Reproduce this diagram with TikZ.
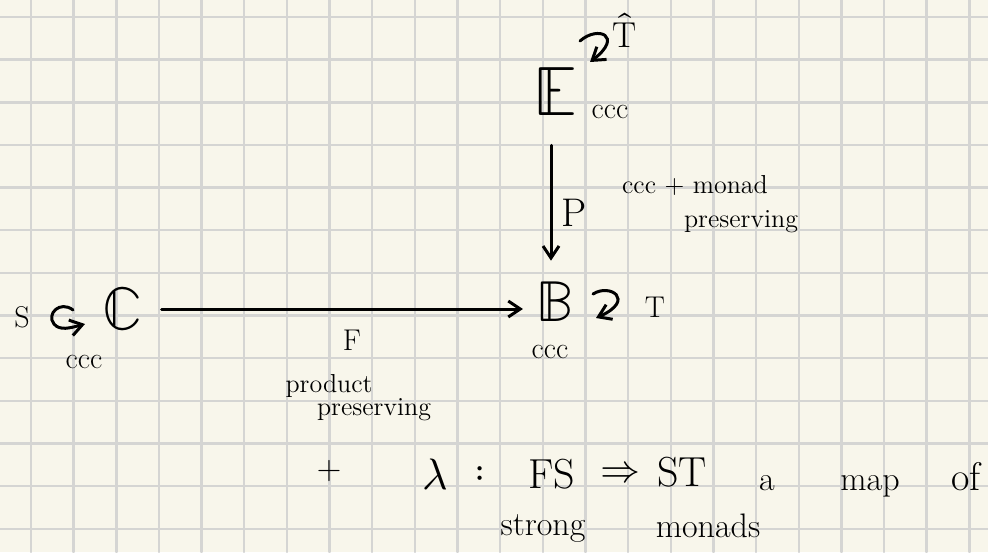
\documentclass[tikz,border=0pt]{standalone}
\usepackage{unicode-math}
\setmathfont{Latin Modern Math}
\usetikzlibrary{arrows.meta}
\definecolor{paper}{HTML}{F8F6EB}
\definecolor{gridgray}{HTML}{D5D5D3}
\newcommand{\handfs}[1]{\fontsize{#1}{#1}\selectfont}
\begin{document}
\begin{tikzpicture}[x=0.5pt,y=-0.5pt,line width=1.5pt,line cap=round,
    >={Straight Barb[length=6pt,width=8pt]},
    every node/.style={inner sep=0pt},
    gridline/.style={gridgray,line width=1.2pt},
    word/.style={font=\handfs{13},anchor=base},
    sub/.style={font=\handfs{15},anchor=base},
    hand/.style={font=\handfs{17},anchor=base}]
  \useasboundingbox (0,0) rectangle (988,552);
  \fill[paper] (0,0) rectangle (988,552);
  \foreach \i in {0,...,22} \draw[gridline] ({31+42.65*\i},0) -- ({31+42.65*\i},552);
  \foreach \j in {0,...,12} \draw[gridline] (0,{17+42.65*\j}) -- (988,{17+42.65*\j});
  % objects
  \node[font=\handfs{35}] (E) at (555,92) {$\mathbb{E}$};
  \node[font=\handfs{29}] (B) at (555,302) {$\mathbb{B}$};
  \node[font=\handfs{30}] (C) at (123,309) {$\mathbb{C}$};
  \node[font=\handfs{15}] (S) at (22,317) {S};
  \node[font=\handfs{18}] (That) at (625,30) {$\hat{\mathrm{T}}$};
  \node[font=\handfs{15}] (T) at (655,307) {T};
  \node[sub] (Eccc) at (610,118) {ccc};
  \node[sub] (Cccc) at (84,368) {ccc};
  \node[sub] (Bccc) at (550,358) {ccc};
  % maps
  \draw[->,shorten <=8.5pt,shorten >=6pt] (C.east) -- (C.east -| B.west);
  \draw[->,shorten <=14pt,shorten >=10pt] ([xshift=-2pt]E.south) -- ([xshift=-2pt]B.north);
  \node[font=\handfs{20}] (Plbl) at (574,213) {P};
  \node[word] (Ppres) at (695,193) {ccc + monad};
  \node[word] (Ppresb) at (741,227) {preserving};
  \node[font=\handfs{15}] (Flbl) at (352,340) {F};
  \node[word] (Fpres) at (329,392) {product};
  \node[word] (Fpresb) at (374,415) {preserving};
  % monad actions
  \draw[->] (580,41) .. controls (598,25) and (624,36) .. (590,62);
  \draw[->] (593,294) .. controls (610,283) and (636,300) .. (596,318);
  \draw[->] (73,310) .. controls (60,300) and (46,314) .. (54,324) .. controls (60,331) and (70,328) .. (85,324);
  % condition
  \node[font=\handfs{17}] (plus) at (329,471) {+};
  \node[font=\handfs{22}] (lam) at (435,475) {$\lambda$};
  \node[font=\handfs{20}] (colon) at (480,475) {$:$};
  \node[font=\handfs{21}] (FS) at (552,474) {FS};
  \node[font=\handfs{20}] (nat) at (620,472) {$\Rightarrow$};
  \node[font=\handfs{21}] (ST) at (682,472) {ST};
  \node[hand] (wa) at (767,490) {a};
  \node[hand] (wmap) at (870,490) {map};
  \node[hand,font=\handfs{20}] (wof) at (966,490) {of};
  \node[hand] (wstrong) at (543,535) {strong};
  \node[hand] (wmonads) at (708,537) {monads};
\end{tikzpicture}
\end{document}
